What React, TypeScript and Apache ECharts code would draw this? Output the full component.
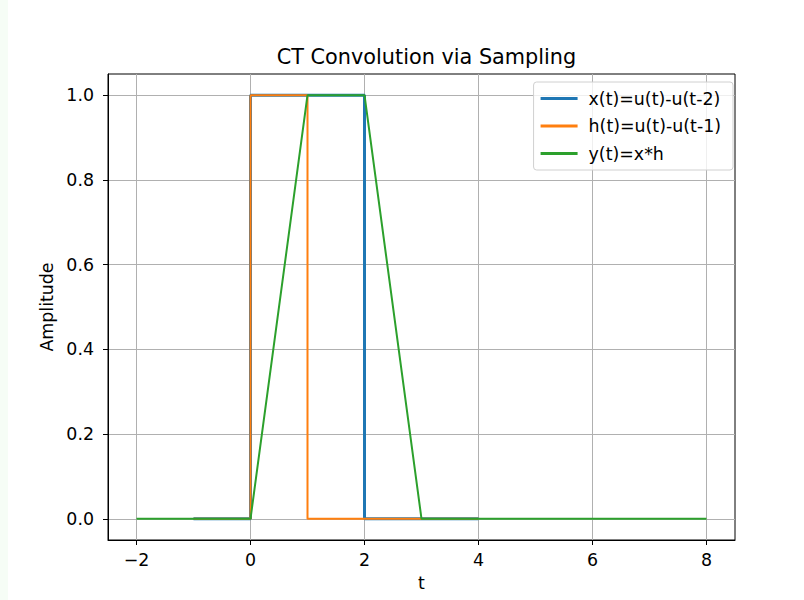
import React, { useEffect, useRef } from "react";
import * as echarts from "echarts";

// Piecewise samples (breakpoints) of the sampled signals
const xSignal: [number, number][] = [[-1, 0], [0, 0], [0, 1], [2, 1], [2, 0], [4, 0]];
const hSignal: [number, number][] = [[-1, 0], [0, 0], [0, 1], [1, 1], [1, 0], [4, 0]];
const ySignal: [number, number][] = [[-2, 0], [0, 0], [1, 1], [2, 1], [3, 0], [8, 0]];

const seriesNames = ["x(t)=u(t)-u(t-2)", "h(t)=u(t)-u(t-1)", "y(t)=x*h"];
const xTicks = [-2, 0, 2, 4, 6, 8];
const yTicks = [0, 0.2, 0.4, 0.6, 0.8, 1.0];

const FONT = "DejaVu Sans";
const FS = 17.4;

export default function App() {
  const ref = useRef<HTMLDivElement>(null);
  useEffect(() => {
    if (!ref.current) return;
    const chart = echarts.init(ref.current, null, { renderer: "svg" });
    chart.setOption({
      animation: false,
      backgroundColor: "#ffffff",
      textStyle: { fontFamily: FONT },
      title: {
        text: "CT Convolution via Sampling",
        left: 421.5,
        textAlign: "center",
        top: 41,
        textStyle: { fontFamily: FONT, fontSize: 20.8, fontWeight: "normal", color: "#000" },
      },
      graphic: [
        { type: "rect", shape: { x: 0, y: 0, width: 8, height: 600 }, style: { fill: "#f6fdf6" }, silent: true },
      ],
      legend: {
        orient: "vertical",
        right: 71,
        top: 82,
        padding: [8, 12, 8, 7],
        itemGap: 10.5,
        itemWidth: 37,
        itemHeight: 3,
        icon: "rect",
        backgroundColor: "rgba(255,255,255,0.8)",
        borderColor: "#d0d0d0",
        borderWidth: 1,
        borderRadius: 3,
        textStyle: { fontFamily: FONT, fontSize: FS, color: "#000", padding: [0, 0, 0, 6] },
        data: seriesNames.map((n) => ({ name: n })),
      },
      grid: {
        left: 108,
        right: 69,
        top: 74,
        bottom: 60,
        show: true,
        borderColor: "#000",
        borderWidth: 1,
        containLabel: false,
      },
      xAxis: {
        type: "value",
        min: -2.5,
        max: 8.5,
        name: "t",
        nameLocation: "middle",
        nameGap: 34,
        nameTextStyle: { fontFamily: FONT, fontSize: FS, color: "#000" },
        axisLine: { show: true, onZero: false, lineStyle: { color: "#000", width: 1 } },
        axisTick: { show: true, inside: false, customValues: xTicks, length: 5, lineStyle: { color: "#000", width: 1 } },
        axisLabel: {
          customValues: xTicks,
          margin: 11,
          fontFamily: FONT,
          fontSize: FS,
          color: "#000",
          formatter: (v: number) => (v < 0 ? "\u2212" + Math.abs(v) : String(v)),
        },
        splitLine: { show: true, lineStyle: { color: "#b0b0b0", width: 1 } },
      },
      yAxis: {
        type: "value",
        min: -0.05,
        max: 1.05,
        name: "Amplitude",
        nameLocation: "middle",
        nameGap: 43,
        nameTextStyle: { fontFamily: FONT, fontSize: FS, color: "#000" },
        axisLine: { show: true, onZero: false, lineStyle: { color: "#000", width: 1 } },
        axisTick: { show: true, inside: false, customValues: yTicks, length: 5, lineStyle: { color: "#000", width: 1 } },
        axisLabel: {
          customValues: yTicks,
          margin: 14,
          fontFamily: FONT,
          fontSize: FS,
          color: "#000",
          formatter: (v: number) => v.toFixed(1),
        },
        splitLine: { show: true, lineStyle: { color: "#b0b0b0", width: 1 } },
      },
      series: [
        {
          name: seriesNames[0],
          type: "line",
          data: xSignal,
          showSymbol: false,
          symbol: "none",
          color: "#1f77b4",
          lineStyle: { width: 3, color: "#1f77b4" },
          z: 2,
        },
        {
          name: seriesNames[1],
          type: "line",
          data: hSignal,
          showSymbol: false,
          symbol: "none",
          color: "#ff7f0e",
          lineStyle: { width: 2, color: "#ff7f0e" },
          z: 3,
        },
        {
          name: seriesNames[2],
          type: "line",
          data: ySignal,
          showSymbol: false,
          symbol: "none",
          color: "#2ca02c",
          lineStyle: { width: 2, color: "#2ca02c" },
          z: 4,
        },
      ],
    });
    return () => chart.dispose();
  }, []);
  return (
    <div
      ref={ref}
      style={{ width: 804, height: 600, position: "absolute", left: 0, top: 0 }}
    />
  );
}
